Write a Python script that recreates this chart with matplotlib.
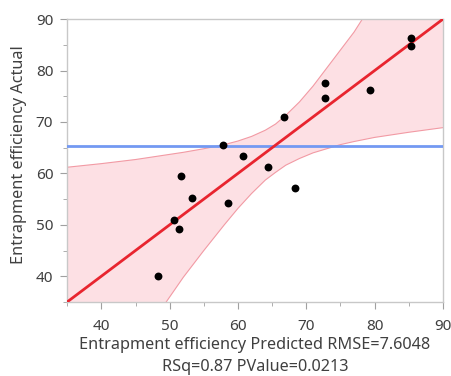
#!/usr/bin/env python3

import matplotlib
matplotlib.use('Agg')
import matplotlib.pyplot as plt
from matplotlib.ticker import MultipleLocator

# actual by predicted
predicted = [85.4, 85.4, 72.8, 72.7, 79.4, 66.7, 57.8, 60.7, 64.4, 68.3,
             51.6, 53.2, 58.5, 50.6, 51.3, 48.3]
actual = [86.4, 84.7, 77.5, 74.6, 76.3, 71.0, 65.5, 63.3, 61.3, 57.2,
          59.4, 55.2, 54.3, 51.0, 49.1, 40.1]
mean_actual = 65.4

# confidence curves
upper_x = [35, 40, 45, 50, 52, 55, 58, 60, 62, 64, 65.5, 67, 69, 71, 73, 75, 77, 78.2]
upper_y = [61.2, 61.9, 62.7, 63.7, 64.1, 64.8, 65.6, 66.3, 67.2, 68.4, 69.6, 71.3,
           73.9, 77.0, 80.5, 84.0, 87.5, 90.0]
lower_x = [49.5, 52, 55, 58, 60, 62, 64, 65.5, 67, 69, 71, 73, 75, 77, 80, 85, 90]
lower_y = [35.0, 39.8, 45.0, 50.0, 53.2, 56.1, 58.7, 60.2, 61.6, 62.9, 64.0, 64.8,
           65.6, 66.2, 67.0, 68.0, 68.9]

lims = (35, 90)
xticks = [40, 50, 60, 70, 80, 90]
yticks = [40, 50, 60, 70, 80, 90]

plt.rcParams['font.family'] = ['Noto Sans', 'DejaVu Sans']

fig = plt.figure(figsize=(4.51, 3.76), dpi=100)
ax = fig.add_axes([0.149, 0.197, 0.833, 0.752])

lo, hi = lims
# band polygon: upper curve, top/right edges, lower curve back, bottom/left edges
poly_x = upper_x + [hi] + lower_x[::-1] + [lo]
poly_y = upper_y + [hi] + lower_y[::-1] + [lo]
ax.fill(poly_x, poly_y, color='#fde0e4', lw=0, zorder=1)
ax.plot(upper_x, upper_y, color='#f29aa4', lw=0.8, zorder=2)
ax.plot(lower_x, lower_y, color='#f29aa4', lw=0.8, zorder=2)

ax.axhline(mean_actual, color='#7399f2', lw=2, zorder=3)
ax.plot(lims, lims, color='#e8252f', lw=2, zorder=4)
ax.scatter(predicted, actual, s=32, color='black', zorder=5, linewidths=0)

ax.set_xlim(lims)
ax.set_ylim(lims)
ax.set_xticks(xticks)
ax.set_yticks(yticks)
ax.xaxis.set_minor_locator(MultipleLocator(5))
ax.yaxis.set_minor_locator(MultipleLocator(5))
ax.tick_params(which='major', length=5, color='#a0a0a0', labelsize=11,
               labelcolor='#404040', pad=5)
ax.tick_params(axis='x', which='major', pad=7)
ax.tick_params(which='minor', length=3, color='#a0a0a0')
for s in ax.spines.values():
    s.set_color('#c8c8c8')
    s.set_linewidth(1)

ax.set_xlabel('Entrapment efficiency Predicted RMSE=7.6048\nRSq=0.87 PValue=0.0213',
              fontsize=11.7, color='#404040', linespacing=1.5)
ax.xaxis.set_label_coords(0.5, -0.123)
ax.set_ylabel('Entrapment efficiency Actual', fontsize=11.7, color='#404040')
ax.yaxis.set_label_coords(-0.108, 0.52)

fig.savefig('out.png', dpi=100)
